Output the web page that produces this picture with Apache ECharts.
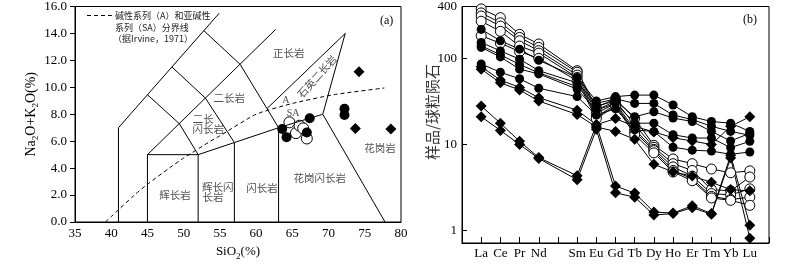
<!DOCTYPE html>
<html>
<head>
<meta charset="utf-8">
<script src="https://cdn.jsdelivr.net/npm/echarts@6/dist/echarts.min.js"></script>
<style>
html, body { margin: 0; padding: 0; background: #fff; }
#chart { width: 800px; height: 266px; }
</style>
</head>
<body>
<div id="chart"></div>
<script>
// ---- panel (a): TAS plutonic fields ----
const fieldLines = [
    [[41, 0], [41, 7], [54.9, 15.5]],
    [[45, 0], [45, 5], [62.7, 14.3]],
    [[45, 9.45], [49.4, 7.3], [52, 5]],
    [[48.4, 11.5], [53, 9.2], [57, 5.9]],
    [[52.8, 14.2], [57.8, 11.7], [63.1, 7]],
    [[45, 5], [52, 5]],
    [[52, 0], [52, 5], [57, 5.9], [63.1, 7], [69.2, 8], [77.8, 0]],
    [[57, 0], [57, 5.9]],
    [[63.1, 0], [63.1, 7]],
    [[61.5, 8.42], [72.3, 14], [69.2, 8]]
];
const irvineLine = [[39.2, 0], [40, 0.4], [43.2, 2], [45, 2.8], [48, 4], [50, 4.75], [53.7, 6], [55, 6.4], [60, 8], [65, 8.8], [70.7, 9.45], [77.7, 9.95]];

const tasFilled = [[63.6, 6.9], [64.2, 6.3], [67.4, 7.7], [67.0, 6.65], [72.2, 8.4], [72.2, 7.95]];
const tasOpen = [[64.6, 7.4], [65.5, 6.6], [66.0, 7.15], [66.5, 6.95], [67.0, 6.2]];
const tasDiamond = [[74.2, 11.15], [73.7, 6.95], [78.6, 6.9]];

const fieldNames = [
    ['正长岩', 64.5, 12.56, 0], ['石英二长岩', 68.4, 10.8, 48], ['二长岩', 56.3, 9.18, 0],
    ['二长', 52.7, 7.63, 0], ['闪长岩', 53.4, 6.91, 0], ['辉长岩', 48.8, 2.0, 0],
    ['辉长闪', 54.7, 2.6, 0], ['长岩', 54.05, 1.89, 0], ['闪长岩', 60.8, 2.5, 0],
    ['花岗闪长岩', 68.8, 3.25, 0], ['花岗岩', 77.1, 5.47, 0]
];
const seriesMarks = [['A', 64.1, 9.06], ['SA', 65.1, 8.06]];

// ---- panel (b): chondrite-normalised REE ----
const reeAxis = ['_0', 'La', 'Ce', 'Pr', 'Nd', 'Pm', 'Sm', 'Eu', 'Gd', 'Tb', 'Dy', 'Ho', 'Er', 'Tm', 'Yb', 'Lu', '_1'];
const reeShown = ['La', 'Ce', 'Pr', 'Nd', 'Sm', 'Eu', 'Gd', 'Tb', 'Dy', 'Ho', 'Er', 'Tm', 'Yb', 'Lu'];
const yTicks = [1, 10, 100, 400];

const filled1 = [217, 160, 128, 95, 60, 32, 36, 37.5, 37.5, 28.8, 21, 18.5, 17.7, 14.2];
const filled2 = [153, 122, 98, 72, 52, 30, 34, 30, 30, 22, 19.5, 16.3, 14.2, 12.8];
const filled3 = [140, 110, 85, 68, 47, 28, 32, 21, 24, 20.3, 18.5, 14.2, 11, 13.5];
const filled4 = [134, 104, 75, 66, 44, 25, 30, 17.7, 17.7, 13, 11.9, 11.9, 9.2, 10.9];
const filled5 = [86, 69, 58, 45, 36, 22, 26, 14.8, 14.2, 9.3, 8.6, 8.4, 7.7, 8.2];

const open1 = [375, 297, 190, 147, 72, 27, 34, 20, 9.8, 6.8, 6.0, 5.2, 4.7, 4.95];
const open2 = [337, 259, 175, 134, 69, 25, 32, 17, 9.3, 6.0, 5.0, 3.0, 2.9, 4.2];
const open3 = [310, 237, 160, 123, 64, 23, 30, 15, 8.8, 5.5, 4.3, 2.7, 2.6, 3.06];
const open4 = [270, 206, 139, 115, 60, 21, 29, 14, 8.5, 5.0, 4.0, 2.5, 2.3, 2.45];
const open5 = [183, 150, 120, 100, 55, 20, 28, 13, 8, 4.8, 3.8, 2.4, 2.25, 1.97];

const diamond1 = [75, 52, 43, 32, 22.3, 16, 14.2, 11.5, 5.9, 4.8, 4.3, 3.64, 3.0, 2.9];
const diamond2 = [80, 56, 46, 35, 25, 17, 20, 16.2, 14, 12, 11, 10, 16.3, 21];
const diamond3 = [28, 17.7, 10.9, 7.05, 4.35, 17, 3.3, 2.73, 1.65, 1.6, 1.95, 1.58, 7.5, 1.16];
const diamond4 = [21, 14.6, 10, 6.9, 3.9, 15, 2.75, 2.45, 1.52, 1.58, 1.85, 1.55, 7.0, 0.82];

const SERIF = 'Liberation Serif';
const CJK = 'Noto Sans CJK SC';

// put the 14 REE values on the 17 axis slots (blank ends and Pm)
function onAxis(vals) {
    const out = reeAxis.map(() => null);
    reeShown.forEach((el, i) => { out[reeAxis.indexOf(el)] = vals[i]; });
    return out;
}

const symbols = {
    filled: {symbol: 'circle', symbolSize: 9, itemStyle: {color: '#000', opacity: 1}},
    open: {symbol: 'circle', symbolSize: 10, itemStyle: {color: '#fff', borderColor: '#000', borderWidth: 1, opacity: 1}},
    diamond: {symbol: 'diamond', symbolSize: 11, itemStyle: {color: '#000', opacity: 1}}
};

function reeSeries(vals, kind) {
    return Object.assign({
        type: 'line',
        xAxisIndex: 1,
        yAxisIndex: 1,
        data: onAxis(vals),
        connectNulls: true,
        showSymbol: true,
        lineStyle: {color: '#000', width: 1},
        emphasis: {disabled: true},
        silent: true
    }, symbols[kind]);
}

const series = [];
fieldLines.forEach(pts => series.push({
    type: 'line', xAxisIndex: 0, yAxisIndex: 0, data: pts, showSymbol: false, silent: true,
    lineStyle: {color: '#000', width: 1}
}));
series.push({
    type: 'line', xAxisIndex: 0, yAxisIndex: 0, data: irvineLine, showSymbol: false, silent: true,
    smooth: 0.2, lineStyle: {color: '#000', width: 1, type: [4, 3]}
});
series.push({
    type: 'scatter', xAxisIndex: 0, yAxisIndex: 0, silent: true, symbolSize: 1,
    itemStyle: {color: 'rgba(0,0,0,0)'},
    data: fieldNames.map(f => ({name: f[0], value: [f[1], f[2]], label: {rotate: f[3]}})),
    label: {show: true, position: 'inside', formatter: '{b}', color: '#222', fontSize: 10.5, fontFamily: CJK}
});
series.push({
    type: 'scatter', xAxisIndex: 0, yAxisIndex: 0, silent: true, symbolSize: 1,
    itemStyle: {color: 'rgba(0,0,0,0)'},
    data: seriesMarks.map(f => ({name: f[0], value: [f[1], f[2]]})),
    label: {show: true, position: 'inside', formatter: '{b}', color: '#222', fontSize: 10, fontFamily: SERIF}
});
series.push(Object.assign({type: 'scatter', xAxisIndex: 0, yAxisIndex: 0, data: tasOpen, silent: true}, symbols.open, {symbolSize: 11}));
series.push(Object.assign({type: 'scatter', xAxisIndex: 0, yAxisIndex: 0, data: tasFilled, silent: true}, symbols.filled, {symbolSize: 10}));
series.push(Object.assign({type: 'scatter', xAxisIndex: 0, yAxisIndex: 0, data: tasDiamond, silent: true}, symbols.diamond));

[open1, open2, open3, open4, open5].forEach(v => series.push(reeSeries(v, 'open')));
[filled1, filled2, filled3, filled4, filled5].forEach(v => series.push(reeSeries(v, 'filled')));
[diamond1, diamond2, diamond3, diamond4].forEach(v => series.push(reeSeries(v, 'diamond')));

const axisText = {color: '#000', fontFamily: SERIF, fontSize: 13};
const blackLine = {show: true, lineStyle: {color: '#000', width: 1}};
const subRich = {
    t: {fontSize: 14, fontFamily: SERIF, color: '#000', lineHeight: 18},
    s: {fontSize: 9, fontFamily: SERIF, color: '#000', lineHeight: 9, verticalAlign: 'bottom'}
};

const chart = echarts.init(document.getElementById('chart'), null, {renderer: 'canvas'});
chart.setOption({
    animation: false,
    backgroundColor: '#fff',
    grid: [
        {left: 75, top: 5, width: 326, height: 223, show: true, borderColor: '#000', borderWidth: 1},
        {left: 462, top: 4, width: 307, height: 239, show: true, borderColor: '#000', borderWidth: 1}
    ],
    xAxis: [
        {
            gridIndex: 0, type: 'value', min: 35, max: 80, interval: 5,
            axisLine: blackLine, axisTick: {show: false}, splitLine: {show: false},
            axisLabel: Object.assign({margin: 5}, axisText),
            name: '{t|SiO}{s|2}{t|(%)}', nameLocation: 'middle', nameGap: 21,
            nameTextStyle: {rich: Object.assign({}, subRich, {t: Object.assign({}, subRich.t, {fontSize: 13})})}
        },
        {
            gridIndex: 1, type: 'category', data: reeAxis, boundaryGap: false,
            axisLine: blackLine, splitLine: {show: false},
            axisTick: {show: true, inside: true, length: 6, interval: 0, lineStyle: {color: '#000'}},
            axisLabel: Object.assign({margin: 4, interval: 0,
                formatter: v => reeShown.includes(v) ? v : ''}, axisText)
        }
    ],
    yAxis: [
        {
            gridIndex: 0, type: 'value', min: 0, max: 16, interval: 2,
            axisLine: blackLine, splitLine: {show: false},
            axisTick: {show: true, inside: false, length: 5, lineStyle: {color: '#000'}},
            axisLabel: Object.assign({margin: 8, formatter: v => v.toFixed(1)}, axisText),
            name: '{t|Na}{s|2}{t|O+K}{s|2}{t|O(%)}', nameLocation: 'middle', nameRotate: 90, nameGap: 31,
            nameTextStyle: {rich: subRich}
        },
        {
            gridIndex: 1, type: 'log', logBase: 10, min: 0.72, max: 400,
            axisLine: blackLine, splitLine: {show: false}, minorTick: {show: false},
            axisTick: {show: true, inside: true, length: 5, lineStyle: {color: '#000'}},
            axisLabel: Object.assign({margin: 5,
                formatter: v => yTicks.some(t => Math.abs(t - v) < 1e-6 * t) ? String(Math.round(v)) : ''}, axisText)
        }
    ],
    graphic: [
        {type: 'line', shape: {x1: 87, y1: 15.5, x2: 113, y2: 15.5}, style: {stroke: '#000', lineWidth: 1, lineDash: [4, 3]}},
        {type: 'text', left: 115, top: 11, style: {text: '碱性系列（A）和亚碱性', fill: '#222', font: '9px "Noto Sans CJK SC"'}},
        {type: 'text', left: 115, top: 23, style: {text: '系列（SA）分界线', fill: '#222', font: '9px "Noto Sans CJK SC"'}},
        {type: 'text', left: 113, top: 34, style: {text: '（据Irvine，1971）', fill: '#222', font: '9px "Noto Sans CJK SC"'}},
        {type: 'text', left: 380, top: 15, style: {text: '(a)', fill: '#000', font: '12px "Liberation Serif"'}},
        {type: 'text', left: 743, top: 14, style: {text: '(b)', fill: '#000', font: '12px "Liberation Serif"'}},
        {type: 'text', x: 432, y: 112, rotation: Math.PI / 2,
            style: {text: '样品/球粒陨石', fill: '#333', font: '15px "Noto Sans CJK SC"', align: 'center', verticalAlign: 'middle'}}
    ],
    series: series
});
</script>
</body>
</html>
